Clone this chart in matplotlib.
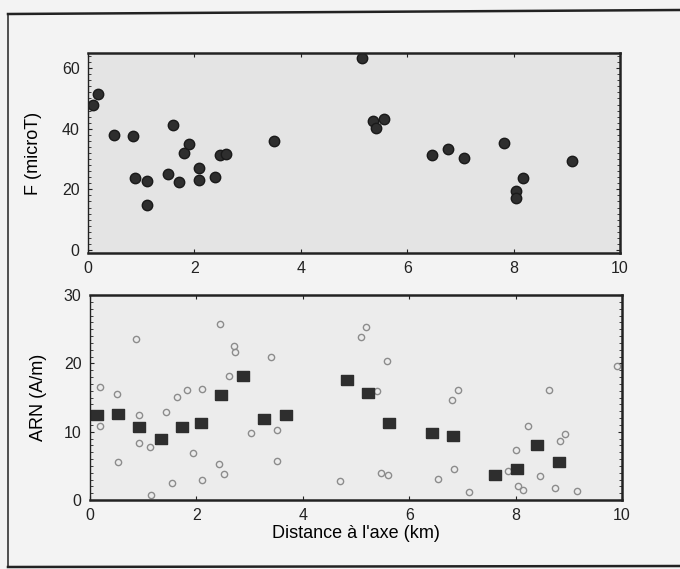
import numpy as np
import matplotlib
matplotlib.use('Agg')
import matplotlib.pyplot as plt
from matplotlib.lines import Line2D
from matplotlib.ticker import MultipleLocator

plt.rcParams['font.family'] = ['Liberation Sans', 'DejaVu Sans']

# top panel: intensity F vs distance
f_dist = [0.09, 0.19, 0.49, 0.85, 0.89, 1.11, 1.11, 1.51, 1.60, 1.71, 1.81, 1.90,
          2.09, 2.08, 2.39, 2.48, 2.60, 3.50, 5.15, 5.36, 5.42, 5.56, 6.47, 6.77,
          7.07, 7.82, 8.18, 8.05, 8.05, 9.09]
f_val = [47.8, 51.6, 37.9, 37.5, 23.7, 22.7, 14.7, 25.0, 41.2, 22.5, 32.1, 34.9,
         27.0, 23.1, 24.1, 31.3, 31.8, 35.8, 63.2, 42.7, 40.3, 43.3, 31.2, 33.2,
         30.2, 35.2, 23.6, 19.5, 17.1, 29.2]

# bottom panel: ARN mean values (squares)
arn_mean_dist = [0.14, 0.52, 0.93, 1.33, 1.72, 2.09, 2.47, 2.88, 3.28, 3.68,
                 4.83, 5.22, 5.62, 6.42, 6.83, 7.62, 8.02, 8.40, 8.81]
arn_mean = [12.5, 12.6, 10.7, 9.0, 10.7, 11.2, 15.4, 18.1, 11.9, 12.5,
            17.6, 15.7, 11.2, 9.8, 9.3, 3.7, 4.6, 8.1, 5.6]

# bottom panel: individual ARN samples (open circles)
arn_dist = [0.18, 0.19, 0.50, 0.52, 0.87, 0.93, 0.93, 1.13, 1.15, 1.42, 1.55, 1.64,
            1.82, 1.93, 2.10, 2.11, 2.44, 2.43, 2.52, 2.62, 2.71, 2.73, 3.02, 3.40,
            3.51, 3.51, 4.70, 5.10, 5.19, 5.40, 5.59, 5.47, 5.60, 6.55, 6.84, 6.92,
            6.81, 7.13, 8.00, 7.86, 8.04, 8.14, 8.24, 8.46, 8.63, 8.74, 8.84, 8.93,
            9.15, 9.91]
arn_val = [16.5, 10.8, 15.5, 5.6, 23.6, 12.5, 8.3, 7.8, 0.8, 12.9, 2.5, 15.1,
           16.1, 6.9, 16.3, 3.0, 25.7, 5.2, 3.8, 18.1, 22.6, 21.7, 9.8, 20.9,
           10.3, 5.7, 2.8, 23.8, 25.3, 16.0, 20.3, 4.0, 3.6, 3.1, 4.5, 16.1,
           14.7, 1.1, 7.3, 4.3, 2.1, 1.5, 10.9, 3.5, 16.1, 1.7, 8.6, 9.7,
           1.3, 19.6]

W, H = 680, 569
fig = plt.figure(figsize=(W / 100, H / 100), dpi=100, facecolor='#f3f3f3')

def box(l, t, r, b):
    return fig.add_axes([l / W, 1 - b / H, (r - l) / W, (b - t) / H])

dark = '#2e2e2e'
rect = [(-1, -0.75), (1, -0.75), (1, 0.75), (-1, 0.75), (-1, -0.75)]

def style(ax, face):
    ax.set_facecolor(face)
    for s in ax.spines.values():
        s.set_color('#222222')
        s.set_linewidth(1.8)
    ax.spines['left'].set_linewidth(1.0)
    ax.spines['left'].set_linestyle((0, (1, 1)))
    ax.tick_params(which='both', direction='in', top=True, right=True,
                   labelsize=11.5, colors='#222222', pad=6)
    ax.tick_params(which='major', length=3)
    ax.tick_params(which='minor', length=2)
    ax.xaxis.set_major_locator(MultipleLocator(2))
    ax.set_xlim(0, 10)

ax1 = box(88, 53, 620, 253)
style(ax1, '#e4e4e4')
ax1.plot(f_dist, f_val, 'o', color=dark, markersize=7.5, markeredgecolor='#1a1a1a')
ax1.set_ylim(-1, 65)
ax1.yaxis.set_major_locator(MultipleLocator(20))
ax1.yaxis.set_minor_locator(MultipleLocator(2))
ax1.set_ylabel('F (microT)', fontsize=13, labelpad=14)

ax2 = box(90, 295, 622, 500)
style(ax2, '#ececec')
ax2.plot(arn_dist, arn_val, 'o', markerfacecolor='none', markeredgecolor='#8c8c8c',
         markeredgewidth=1.0, markersize=4.5)
ax2.plot(arn_mean_dist, arn_mean, marker=rect, linestyle='none', color=dark,
         markersize=9)
ax2.set_ylim(0, 30)
ax2.yaxis.set_major_locator(MultipleLocator(10))
ax2.yaxis.set_minor_locator(MultipleLocator(1))
ax2.set_ylabel('ARN (A/m)', fontsize=13, labelpad=12)
ax2.set_xlabel('Distance à l\'axe (km)', fontsize=13, labelpad=1)

# outer frame of the scanned figure
fig.add_artist(Line2D([8 / W, 8 / W], [1 - 14 / H, 1 - 567 / H], color='#333333', lw=1.2))
fig.add_artist(Line2D([8 / W, 1], [1 - 14 / H, 1 - 10 / H], color='#222222', lw=1.8))
fig.add_artist(Line2D([8 / W, 1], [1 - 567 / H, 1 - 566 / H], color='#222222', lw=1.8))

fig.savefig('out.png', dpi=100, facecolor=fig.get_facecolor())
